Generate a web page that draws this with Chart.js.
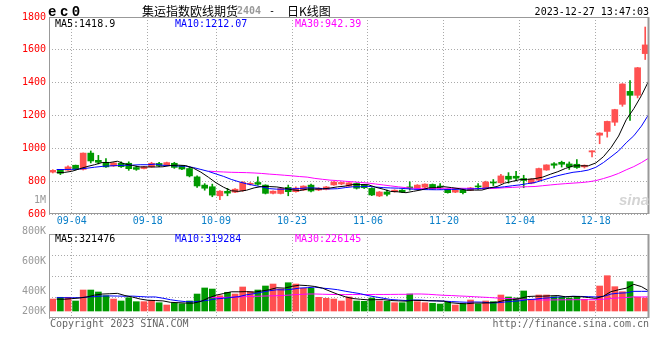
<!DOCTYPE html>
<html>
<head>
<meta charset="utf-8">
<script src="https://cdn.jsdelivr.net/npm/chart.js@4.4.0/dist/chart.umd.min.js"></script>
<style>
body { margin: 0; background: #fff; }
#wrap { position: relative; width: 660px; height: 360px; overflow: hidden; font-family: "DejaVu Sans Mono", monospace; font-size: 10px; }
canvas { position: absolute; left: 0; }
.t { position: absolute; white-space: nowrap; line-height: 12px; }
</style>
</head>
<body>
<div id="wrap">
  <canvas id="priceChart" width="660" height="232" style="top:0"></canvas>
  <canvas id="volChart" width="660" height="110" style="top:222px"></canvas>

  <div class="t" style="left:48px;top:4px;font:bold 14px 'Liberation Mono';letter-spacing:3.5px;line-height:16px">ec0</div>
  <div class="t" style="left:142px;top:4px;font-size:12px;font-family:'Noto Sans CJK SC';line-height:14px">集运指数欧线期货</div>
  <div class="t" style="left:237px;top:5px;color:#999;font-weight:bold">2404</div>
  <div class="t" style="left:269px;top:5px">-</div>
  <div class="t" style="left:287px;top:4px;font-size:12px;font-family:'Noto Sans CJK SC';line-height:14px">日K线图</div>
  <div class="t" style="right:11px;top:6px">2023-12-27 13:47:03</div>

  <div class="t" style="left:55px;top:18px;color:#000">MA5:1418.9</div>
  <div class="t" style="left:175px;top:18px;color:#00f">MA10:1212.07</div>
  <div class="t" style="left:295px;top:18px;color:#f0f">MA30:942.39</div>
  <div class="t" style="right:614px;top:194px;color:#999">1M</div>

  <div class="t" style="left:619px;top:192px;font:bold italic 15px 'Liberation Sans';color:#d4d4d4;line-height:16px">sina</div>

  <div class="t" style="left:55px;top:233px;color:#000">MA5:321476</div>
  <div class="t" style="left:175px;top:233px;color:#00f">MA10:319284</div>
  <div class="t" style="left:295px;top:233px;color:#f0f">MA30:226145</div>
  <div class="t" style="right:614px;top:225px;color:#999">800K</div>
  <div class="t" style="right:614px;top:255px;color:#999">600K</div>
  <div class="t" style="right:614px;top:285px;color:#999">400K</div>
  <div class="t" style="right:614px;top:305px;color:#999">200K</div>

  <div class="t" style="left:50px;top:318px;color:#666">Copyright 2023 SINA.COM</div>
  <div class="t" style="right:11px;top:318px;color:#666">http://finance.sina.com.cn</div>
</div>

<script>
const dates = ['08-31',
  '09-01', '09-04', '09-05', '09-06', '09-07', '09-08', '09-11', '09-12', '09-13', '09-14',
  '09-15', '09-18', '09-19', '09-20', '09-21', '09-22', '09-25', '09-26', '09-27', '09-28',
  '10-09', '10-10', '10-11', '10-12', '10-13', '10-16', '10-17', '10-18', '10-19', '10-20',
  '10-23', '10-24', '10-25', '10-26', '10-27', '10-30', '10-31',
  '11-01', '11-02', '11-03', '11-06', '11-07', '11-08', '11-09', '11-10', '11-13', '11-14',
  '11-15', '11-16', '11-17', '11-20', '11-21', '11-22', '11-23', '11-24', '11-27', '11-28',
  '11-29', '11-30',
  '12-01', '12-04', '12-05', '12-06', '12-07', '12-08', '12-11', '12-12', '12-13', '12-14',
  '12-15', '12-18', '12-19', '12-20', '12-21', '12-22', '12-25', '12-26', '12-27'];
const tickDates = ['09-04', '09-18', '10-09', '10-23', '11-06', '11-20', '12-04', '12-18'];

const openP = [855, 866, 867, 897, 872, 971, 927, 915, 893, 909,
  909, 883, 877, 887, 908, 897, 909, 893, 877, 826,
  776, 766, 711, 738, 733, 742, 781, 792, 776, 726,
  725, 762, 736, 746, 776, 746, 750, 777, 783, 770,
  786, 776, 756, 710, 734, 736, 745, 765, 760, 763,
  780, 770, 750, 733, 745, 745, 770, 758, 795, 790,
  830, 830, 816, 788, 806, 868, 906, 915, 905, 903,
  887, 978, 1080, 1103, 1159, 1268, 1347, 1323, 1577];
const highP = [870, 868, 893, 898, 972, 984, 957, 938, 913, 918,
  918, 891, 890, 915, 914, 916, 915, 896, 885, 832,
  785, 782, 742, 756, 755, 798, 792, 826, 778, 741,
  757, 776, 766, 772, 782, 760, 768, 797, 795, 792,
  790, 780, 760, 737, 745, 748, 748, 796, 779, 784,
  783, 785, 752, 748, 753, 762, 785, 800, 810, 842,
  852, 860, 836, 815, 880, 900, 913, 922, 917, 931,
  899, 985, 1095, 1166, 1238, 1394, 1412, 1493, 1739];
const lowP = [850, 840, 865, 868, 868, 911, 905, 883, 890, 883,
  866, 866, 875, 885, 888, 894, 878, 870, 826, 762,
  745, 705, 688, 711, 730, 738, 776, 776, 722, 722,
  722, 711, 733, 744, 735, 742, 747, 775, 778, 768,
  752, 755, 712, 706, 710, 733, 730, 745, 757, 760,
  750, 752, 727, 730, 722, 742, 750, 755, 773, 787,
  788, 802, 760, 784, 803, 866, 879, 886, 871, 877,
  880, 948, 1028, 1068, 1139, 1256, 1170, 1307, 1541];
const closeP = [866, 848, 887, 872, 971, 923, 915, 887, 911, 888,
  876, 872, 887, 909, 895, 913, 884, 874, 832, 771,
  757, 715, 739, 727, 751, 792, 786, 781, 726, 739,
  755, 736, 758, 770, 740, 757, 765, 795, 792, 790,
  757, 760, 716, 734, 720, 745, 734, 758, 776, 782,
  752, 764, 730, 745, 730, 759, 765, 795, 789, 832,
  812, 818, 804, 812, 877, 899, 897, 903, 887, 883,
  897, 985, 1093, 1164, 1236, 1392, 1323, 1491, 1630];

const ma5 = [852, 853, 860, 875, 888.8, 900.2, 913.6, 913.6, 921.4, 904.8,
  895.4, 886.8, 886.8, 886.4, 887.8, 895.2, 897.6, 895.0, 879.6, 854.8,
  823.6, 789.8, 762.8, 741.8, 737.8, 744.8, 759.0, 767.4, 767.2, 764.8,
  757.4, 747.4, 742.8, 751.6, 751.8, 752.2, 758.0, 765.4, 769.8, 779.8,
  779.8, 778.8, 763.0, 751.4, 737.4, 735.0, 729.8, 738.2, 746.6, 759.0,
  760.4, 766.4, 760.8, 754.6, 744.2, 745.6, 745.8, 758.8, 767.6, 788.0,
  798.6, 809.2, 811.0, 815.6, 824.6, 842.0, 857.8, 877.6, 892.6, 893.8,
  893.4, 911.0, 949.0, 1004.4, 1075.0, 1174.0, 1241.6, 1321.2, 1414.4];
const ma10 = [871, 871, 872, 874, 879, 885, 890, 893, 895, 896.8,
  897.8, 900.2, 900.2, 903.9, 896.3, 895.3, 892.2, 890.9, 883.0, 871.3,
  859.4, 843.7, 828.9, 810.7, 796.3, 784.2, 774.4, 765.1, 754.5, 751.3,
  751.1, 753.2, 755.1, 759.4, 758.3, 754.8, 752.7, 754.1, 760.7, 765.8,
  766.0, 768.4, 764.2, 760.6, 758.6, 757.4, 754.3, 750.6, 749.0, 748.2,
  747.7, 748.1, 749.5, 750.6, 751.6, 753.0, 756.1, 759.8, 761.1, 766.1,
  772.1, 777.5, 784.9, 791.6, 806.3, 820.3, 833.5, 844.3, 854.1, 859.2,
  867.7, 884.4, 913.3, 948.5, 984.4, 1033.7, 1076.3, 1135.1, 1209.4];
const ma30 = [null, null, null, null, null, null, null, null, null, null,
  null, null, null, null, null, null, null, null, null, null,
  861, 858, 856, 854, 853, 852, 850, 847, 843, 839.8,
  836.1, 832.4, 828.1, 824.7, 817.0, 811.4, 806.4, 803.4, 799.4, 796.1,
  792.2, 788.4, 782.7, 776.9, 771.1, 765.5, 760.5, 756.6, 754.7, 755.1,
  754.9, 756.6, 756.3, 756.9, 756.2, 755.1, 754.4, 754.8, 756.9, 760.0,
  761.9, 764.7, 766.2, 767.6, 772.2, 776.9, 781.3, 784.9, 788.1, 791.2,
  795.8, 803.3, 815.9, 830.2, 847.4, 869.0, 888.6, 913.1, 941.5];

// volume, in thousands
const volK = [194, 222, 222, 162, 340, 340, 308, 248, 194, 162,
  215, 151, 151, 167, 134, 97, 125, 118, 162, 275,
  373, 356, 248, 303, 275, 389, 313, 340, 405, 437,
  356, 458, 437, 368, 368, 222, 206, 194, 162, 227,
  162, 157, 211, 162, 157, 134, 134, 275, 151, 134,
  125, 113, 141, 97, 113, 178, 113, 162, 151, 259,
  227, 211, 324, 178, 259, 259, 232, 222, 211, 238,
  190, 162, 405, 572, 394, 313, 475, 222, 211];
const volMa5 = [192, 190, 200, 210, 228, 257.2, 274.4, 279.6, 286, 250.4,
  225.4, 194, 174.6, 169.2, 163.6, 140, 134.8, 128.2, 127.2, 155.4,
  210.6, 256.8, 282.8, 311, 311, 314.2, 305.6, 324, 344.4, 376.8,
  370.2, 399.2, 418.6, 411.2, 397.4, 370.6, 320.2, 271.6, 230.4, 202.2,
  190.2, 180.4, 183.8, 183.8, 169.8, 164.2, 159.6, 172.4, 170.2, 165.6,
  163.8, 159.6, 132.8, 122, 117.8, 128.4, 128.4, 132.6, 143.4, 172.6,
  182.4, 202, 234.4, 239.8, 239.8, 246.2, 250.4, 230, 236.6, 232.4,
  218.6, 204.6, 241.2, 313.4, 344.6, 369.2, 431.8, 395.2, 323];
const volMa10 = [216, 215, 214, 216, 225, 235, 242, 244, 242, 239.2,
  241.3, 234.2, 227.1, 227.6, 207, 182.7, 164.4, 151.4, 148.2, 159.5,
  175.3, 195.8, 205.5, 219.1, 233.2, 262.4, 281.2, 303.4, 327.7, 343.9,
  342.2, 352.4, 371.3, 377.8, 387.1, 370.4, 359.7, 345.1, 320.8, 299.8,
  280.4, 250.3, 227.7, 207.1, 186, 177.2, 170, 178.1, 177, 167.7,
  164, 159.6, 152.6, 146.1, 141.7, 146.1, 144, 132.7, 132.7, 145.2,
  155.4, 165.2, 183.5, 191.6, 206.2, 214.3, 226.2, 232.2, 238.2, 236.1,
  232.4, 227.5, 235.6, 275, 288.5, 293.9, 318.2, 318.2, 318.2];
const volMa30 = [null, null, null, null, null, null, null, null, null, null,
  null, null, null, null, null, null, null, null, null, null,
  215, 218, 220, 224, 228, 233, 237, 241, 245, 247.5,
  252.9, 260.8, 268, 274.8, 275.8, 271.8, 268.4, 266.6, 265.6, 267.7,
  266, 266.2, 268.2, 268, 268.8, 270, 270.3, 275.5, 275.2, 270.5,
  262.2, 254.1, 250.5, 243.7, 238.3, 231.2, 224.6, 218.6, 210.2, 204.2,
  199.9, 191.7, 187.9, 181.6, 178, 179.2, 180.1, 181, 182.6, 183,
  183.9, 184.1, 190.6, 204.2, 212.1, 218.1, 229.5, 227.7, 229.7];

const UP = '#ff5050';
const DOWN = '#009900';
const GRID = '#aaaaaa';
const MONO = "'DejaVu Sans Mono', monospace";

const tickIdx = tickDates.map(d => dates.indexOf(d));
const candleColors = closeP.map((c, i) => c >= openP[i] ? UP : DOWN);

function pts(arr) {
    return arr.map((v, i) => ({ x: i, y: v }));
}

// sina draws the frame on top of everything
const framePlugin = {
    id: 'frame',
    afterDraw(chart) {
        const a = chart.chartArea;
        const ctx = chart.ctx;
        ctx.save();
        ctx.strokeStyle = '#999';
        ctx.lineWidth = 1;
        ctx.strokeRect(a.left + 0.5, a.top + 0.5, a.right - a.left - 1, a.bottom - a.top - 1);
        ctx.lineWidth = 2;
        ctx.beginPath();
        ctx.moveTo(a.right - 0.5, a.top);
        ctx.lineTo(a.right - 0.5, a.bottom);
        ctx.stroke();
        ctx.restore();
    }
};

function dateAxis(showLabels, height) {
    return {
        type: 'linear',
        position: 'bottom',
        offset: false,
        min: -1,
        max: 78,
        afterBuildTicks: s => { s.ticks = tickIdx.map(v => ({ value: v })); },
        afterFit: s => { s.height = height; },
        ticks: {
            display: showLabels,
            autoSkip: false,
            maxRotation: 0,
            padding: 1,
            color: '#0a7fc8',
            font: { family: MONO, size: 10 },
            callback: v => dates[v]
        },
        grid: { color: GRID, drawTicks: false, offset: false },
        border: { display: false, dash: [1, 2] }
    };
}

function maLine(data, color) {
    return {
        type: 'line',
        data: pts(data),
        xAxisID: 'xl',
        borderColor: color,
        borderWidth: 1,
        pointRadius: 0,
        tension: 0,
        order: 1
    };
}

const barAxis = { type: 'linear', min: -0.5, max: 78.5, offset: false, display: false };

function drawPrice() {
    const ctx = document.getElementById('priceChart').getContext('2d');
    new Chart(ctx, {
        type: 'bar',
        data: {
            datasets: [
                {
                    data: lowP.map((l, i) => ({ x: i, y: [l, highP[i]] })),
                    xAxisID: 'x',
                    backgroundColor: candleColors,
                    barThickness: 1,
                    grouped: false,
                    order: 3
                },
                {
                    data: openP.map((o, i) => ({ x: i, y: [o, closeP[i]] })),
                    xAxisID: 'x',
                    backgroundColor: candleColors,
                    barThickness: 6,
                    minBarLength: 1,
                    grouped: false,
                    order: 2
                },
                maLine(ma5, '#000'),
                maLine(ma10, '#00f'),
                maLine(ma30, '#f0f')
            ]
        },
        options: {
            responsive: false,
            animation: false,
            layout: { padding: { top: 17, right: 11, left: 0, bottom: 0 } },
            plugins: { legend: { display: false }, tooltip: { enabled: false } },
            scales: {
                x: barAxis,
                xl: dateAxis(true, 18),
                y: {
                    min: 600,
                    max: 1800,
                    afterFit: s => { s.width = 49; },
                    ticks: {
                        stepSize: 200, padding: 3, color: '#f00',
                        font: { family: MONO, size: 10 },
                        callback: v => String(v)
                    },
                    grid: { color: GRID, drawTicks: false },
                    border: { display: false, dash: [1, 2] }
                }
            }
        },
        plugins: [framePlugin]
    });
}

function drawVolume() {
    const ctx = document.getElementById('volChart').getContext('2d');
    new Chart(ctx, {
        type: 'bar',
        data: {
            datasets: [
                {
                    data: volK.map((v, i) => ({ x: i, y: v })),
                    xAxisID: 'x',
                    backgroundColor: candleColors,
                    barThickness: 6,
                    grouped: false,
                    order: 2
                },
                maLine(volMa5, '#000'),
                maLine(volMa10, '#00f'),
                maLine(volMa30, '#f0f')
            ]
        },
        options: {
            responsive: false,
            animation: false,
            layout: { padding: { top: 12, right: 11, left: 0, bottom: 14 } },
            plugins: { legend: { display: false }, tooltip: { enabled: false } },
            scales: {
                x: barAxis,
                xl: dateAxis(false, 0),
                y: {
                    min: -113.4,
                    max: 1247.4,
                    afterFit: s => { s.width = 49; },
                    afterBuildTicks: s => {
                        const step = (s.max - s.min) / 4;
                        s.ticks = [0, 1, 2, 3, 4].map(j => ({ value: s.min + j * step }));
                    },
                    ticks: { display: false },
                    grid: { color: GRID, drawTicks: false },
                    border: { display: false, dash: [1, 2] }
                }
            }
        },
        plugins: [framePlugin]
    });
}

drawPrice();
drawVolume();
</script>
</body>
</html>
